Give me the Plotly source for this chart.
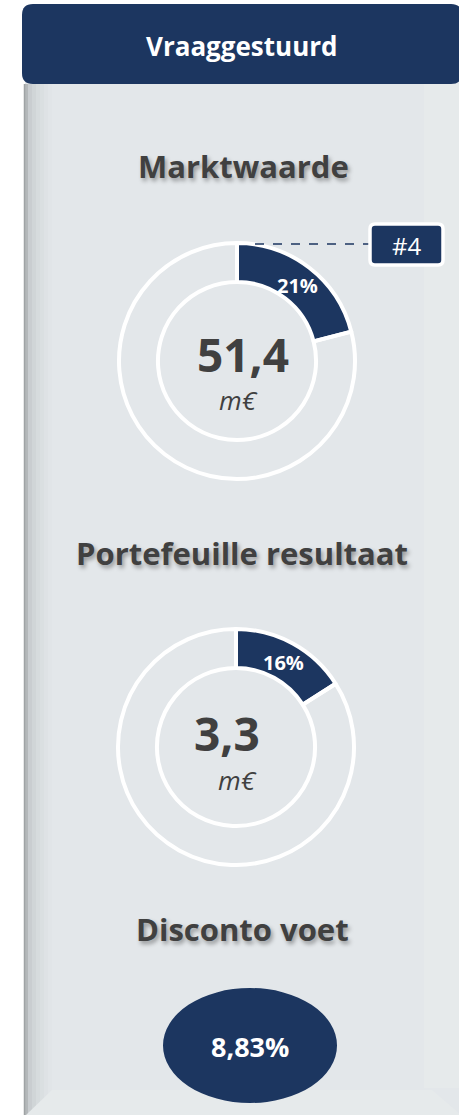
import math
import plotly.graph_objects as go

W, H = 459, 1117

HEADER = "Vraaggestuurd"
TITLES = ["Marktwaarde", "Portefeuille resultaat"]
SHARES = [21, 16]          # % share shown in navy slice
TOTALS = ["51,4", "3,3"]   # centre values
UNIT = "m€"
RANK = "#4"
RATE_TITLE = "Disconto voet"
RATE = "8,83%"

NAVY = "#1c3660"
GREY_TXT = "#404040"
PANEL = "#e3e7ea"
FONT = "Open Sans"
HOLE = 0.67


def px_x(v):
    return v / W


def px_y(v):
    return 1 - v / H


def rounded_rect(x0, y0, x1, y1, r):
    # path in paper coords, pixel inputs
    X0, X1 = px_x(x0), px_x(x1)
    Y0, Y1 = px_y(y0), px_y(y1)
    rx, ry = r / W, r / H
    return (
        f"M {X0 + rx},{Y0} L {X1 - rx},{Y0} Q {X1},{Y0} {X1},{Y0 - ry} "
        f"L {X1},{Y1 + ry} Q {X1},{Y1} {X1 - rx},{Y1} "
        f"L {X0 + rx},{Y1} Q {X0},{Y1} {X0},{Y1 + ry} "
        f"L {X0},{Y0 - ry} Q {X0},{Y0} {X0 + rx},{Y0} Z"
    )


fig = go.Figure()
ann = []

# donut charts
centres = [(237, 361), (236, 747)]
R = 118
for share, (cx, cy) in zip(SHARES, centres):
    fig.add_trace(go.Pie(
        values=[share, 100 - share],
        textinfo="none",
        marker=dict(colors=[NAVY, "rgba(0,0,0,0)"], line=dict(color="white", width=4)),
        hole=HOLE,
        sort=False,
        direction="clockwise",
        rotation=0,
        showlegend=False,
        hoverinfo="skip",
        domain=dict(x=[px_x(cx - R), px_x(cx + R)], y=[px_y(cy + R), px_y(cy - R)]),
    ))
    # slice label at the middle of the navy segment
    ang = math.radians(share / 100 * 360 / 2)
    rm = R * (1 + HOLE) / 2
    ann.append(dict(text=f"<b>{share}%</b>",
                    x=px_x(cx + rm * math.sin(ang)), y=px_y(cy - rm * math.cos(ang) + 2),
                    font=dict(family=FONT, size=20, color="white")))

shapes = []
# panel body
shapes.append(dict(type="rect", xref="paper", yref="paper",
                   x0=px_x(25), x1=px_x(W + 2), y0=px_y(1115), y1=px_y(80),
                   fillcolor=PANEL, line=dict(width=0), layer="below"))
# left shaded edge
edge_cols = ["#b4b8ba", "#c9cdd0", "#d0d5d7", "#d6dbdd", "#dadfe1", "#dee2e5", "#e1e5e8"]
for i, c in enumerate(edge_cols):
    shapes.append(dict(type="rect", xref="paper", yref="paper",
                       x0=px_x(24 + i * 4), x1=px_x(28 + i * 4), y0=px_y(1115), y1=px_y(84),
                       fillcolor=c, line=dict(width=0), layer="below"))
shapes.append(dict(type="line", xref="paper", yref="paper",
                   x0=px_x(24.5), x1=px_x(24.5), y0=px_y(1115), y1=px_y(84),
                   line=dict(color="#9fa3a5", width=1.5), layer="below"))
# lighter right band
shapes.append(dict(type="rect", xref="paper", yref="paper",
                   x0=px_x(424), x1=px_x(W + 2), y0=px_y(1088), y1=px_y(84),
                   fillcolor="#e6eaeb", line=dict(width=0), layer="below"))
# bottom bevel
shapes.append(dict(type="path", xref="paper", yref="paper",
                   path=(f"M {px_x(26)},{px_y(1115)} L {px_x(52)},{px_y(1090)} "
                         f"L {px_x(432)},{px_y(1090)} L {px_x(W + 2)},{px_y(1115)} Z"),
                   fillcolor="#e6eaeb", line=dict(width=0), layer="below"))
# header bar
shapes.append(dict(type="path", xref="paper", yref="paper",
                   path=rounded_rect(22, 4, 462, 84, 11),
                   fillcolor=NAVY, line=dict(width=0), layer="below"))
# rate ellipse
shapes.append(dict(type="circle", xref="paper", yref="paper",
                   x0=px_x(163), x1=px_x(337), y0=px_y(1103), y1=px_y(988),
                   fillcolor=NAVY, line=dict(width=0)))
# rank callout
shapes.append(dict(type="line", xref="paper", yref="paper",
                   x0=px_x(255), x1=px_x(370), y0=px_y(244), y1=px_y(244),
                   line=dict(color=NAVY, width=1.5, dash="dash")))
shapes.append(dict(type="path", xref="paper", yref="paper",
                   path=rounded_rect(370, 224, 443, 265, 5),
                   fillcolor=NAVY, line=dict(color="white", width=3.5)))

shadow = "2px 3px 4px rgba(0,0,0,0.35)"
ann += [
    dict(text=f"<b>{HEADER}</b>", x=px_x(242), y=px_y(46),
         font=dict(family=FONT, size=26, color="white")),
    dict(text=f"<b>{TITLES[0]}</b>", x=px_x(243), y=px_y(166),
         font=dict(family=FONT, size=31, color=GREY_TXT, shadow=shadow)),
    dict(text=f"<b>{TITLES[1]}</b>", x=px_x(242), y=px_y(553),
         font=dict(family=FONT, size=31, color=GREY_TXT, shadow=shadow)),
    dict(text=f"<b>{RATE_TITLE}</b>", x=px_x(242), y=px_y(929),
         font=dict(family=FONT, size=31, color=GREY_TXT, shadow=shadow)),
    dict(text=f"<b>{TOTALS[0]}</b>", x=px_x(243), y=px_y(354),
         font=dict(family=FONT, size=46, color=GREY_TXT)),
    dict(text=f"<i>{UNIT}</i>", x=px_x(238), y=px_y(400),
         font=dict(family=FONT, size=26, color=GREY_TXT)),
    dict(text=f"<b>{TOTALS[1]}</b>", x=px_x(227), y=px_y(733),
         font=dict(family=FONT, size=46, color=GREY_TXT)),
    dict(text=f"<i>{UNIT}</i>", x=px_x(237), y=px_y(780),
         font=dict(family=FONT, size=26, color=GREY_TXT)),
    dict(text=RANK, x=px_x(406.5), y=px_y(245),
         font=dict(family=FONT, size=24, color="white")),
    dict(text=f"<b>{RATE}</b>", x=px_x(250), y=px_y(1046),
         font=dict(family=FONT, size=27, color="white")),
]
for a in ann:
    a.update(xref="paper", yref="paper", showarrow=False, xanchor="center", yanchor="middle")

fig.update_layout(
    width=W, height=H,
    margin=dict(l=0, r=0, t=0, b=0),
    paper_bgcolor="white",
    plot_bgcolor="rgba(0,0,0,0)",
    shapes=shapes,
    annotations=ann,
    showlegend=False,
)

# page body has a default 8px margin; drop it so the figure sits at 0,0
fig.write_html("out.html", config={"displayModeBar": False},
               post_script="document.body.style.margin='0';")
